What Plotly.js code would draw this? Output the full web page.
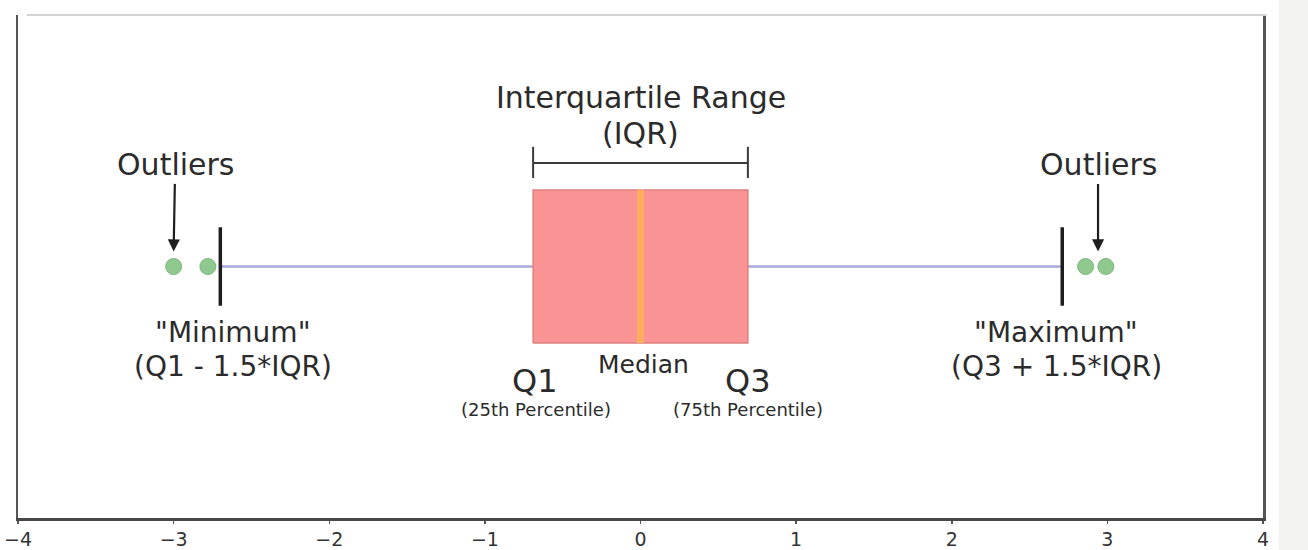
<!DOCTYPE html>
<html>
<head>
<meta charset="utf-8">
<script src="https://cdn.plot.ly/plotly-3.0.1.min.js"></script>
<style>
  html, body { margin: 0; padding: 0; background: #ffffff; }
  #chart { width: 1308px; height: 550px; }
</style>
</head>
<body>
<div id="chart"></div>
<script>
// ---- data ----
const statNames  = ['lowerWhisker', 'q1', 'median', 'q3', 'upperWhisker'];
const statValues = [-2.70, -0.69, 0.00, 0.69, 2.71];
const outlierValues = [-3.00, -2.78, 2.86, 2.99];
const tickValues = [-4, -3, -2, -1, 0, 1, 2, 3, 4];
const tickLabels = ['\u22124', '\u22123', '\u22122', '\u22121', '0', '1', '2', '3', '4'];

const S = {};
statNames.forEach((n, i) => { S[n] = statValues[i]; });

// ---- styling / geometry (in axis units) ----
const yc = 0.5;        // row position
const boxHalf = 0.152; // half box height
const capHalf = 0.078; // half whisker-cap height
const FONT = 'DejaVu Sans, Verdana, sans-serif';
const TXT = '#2b2b2b';

const traces = [
  { // whiskers
    type: 'scatter', mode: 'lines', hoverinfo: 'skip', showlegend: false,
    x: [S.lowerWhisker, S.q1, null, S.q3, S.upperWhisker],
    y: [yc, yc, null, yc, yc],
    line: { color: '#a9a9dc', width: 2.5 }
  },
  { // box
    type: 'scatter', mode: 'lines', hoverinfo: 'skip', showlegend: false,
    x: [S.q1, S.q3, S.q3, S.q1, S.q1],
    y: [yc - boxHalf, yc - boxHalf, yc + boxHalf, yc + boxHalf, yc - boxHalf],
    fill: 'toself', fillcolor: '#fa9494',
    line: { color: '#e07f7f', width: 1.5 }
  },
  { // median
    type: 'scatter', mode: 'lines', hoverinfo: 'skip', showlegend: false,
    x: [S.median, S.median],
    y: [yc - boxHalf, yc + boxHalf],
    line: { color: '#ffad5c', width: 7 }
  },
  { // caps
    type: 'scatter', mode: 'lines', hoverinfo: 'skip', showlegend: false,
    x: [S.lowerWhisker, S.lowerWhisker, null, S.upperWhisker, S.upperWhisker],
    y: [yc - capHalf, yc + capHalf, null, yc - capHalf, yc + capHalf],
    line: { color: '#1e1e1e', width: 3.5 }
  },
  { // outliers
    type: 'scatter', mode: 'markers', hoverinfo: 'x', showlegend: false,
    x: outlierValues,
    y: outlierValues.map(() => yc),
    marker: { size: 16, color: '#8fc98f', line: { color: '#7cb87c', width: 1 } }
  },
  { // IQR bracket
    type: 'scatter', mode: 'lines', hoverinfo: 'skip', showlegend: false,
    x: [S.q1, S.q1, null, S.q1, S.q3, null, S.q3, S.q3],
    y: [0.676, 0.738, null, 0.706, 0.706, null, 0.676, 0.738],
    line: { color: '#3a3a3a', width: 2 }
  }
];

function txt(text, x, y, size) {
  return { text: text, x: x, y: y, xref: 'x', yref: 'y', showarrow: false,
           xanchor: 'center', yanchor: 'middle', borderpad: 0,
           font: { family: FONT, size: size, color: TXT } };
}

const leftOut = Math.min.apply(null, outlierValues);

const annotations = [
  txt('Interquartile Range', 0.0, 0.836, 30),
  txt('(IQR)', 0.0, 0.765, 30),
  txt('"Minimum"', -2.62, 0.369, 28),
  txt('(Q1 - 1.5*IQR)', -2.62, 0.302, 28),
  txt('"Maximum"', 2.67, 0.369, 28),
  txt('(Q3 + 1.5*IQR)', 2.67, 0.302, 28),
  txt('Q1', S.q1 + 0.01, 0.273, 32),
  txt('Q3', S.q3, 0.273, 32),
  txt('Median', S.median + 0.02, 0.305, 25),
  txt('(25th Percentile)', S.q1 + 0.02, 0.215, 18),
  txt('(75th Percentile)', S.q3, 0.215, 18),
  { text: 'Outliers', x: leftOut, y: yc + 0.03, xref: 'x', yref: 'y',
    ax: leftOut + 0.01, ay: 0.702, axref: 'x', ayref: 'y',
    showarrow: true, arrowhead: 2, arrowsize: 1.1, arrowwidth: 2.2, arrowcolor: '#1e1e1e',
    font: { family: FONT, size: 30, color: TXT } },
  { text: 'Outliers', x: 2.94, y: yc + 0.03, xref: 'x', yref: 'y',
    ax: 2.94, ay: 0.702, axref: 'x', ayref: 'y',
    showarrow: true, arrowhead: 2, arrowsize: 1.1, arrowwidth: 2.2, arrowcolor: '#1e1e1e',
    font: { family: FONT, size: 30, color: TXT } }
];

const layout = {
  width: 1308, height: 550,
  margin: { l: 18, r: 45, t: 15, b: 32 },
  paper_bgcolor: '#ffffff', plot_bgcolor: '#ffffff',
  showlegend: false,
  font: { family: FONT, color: TXT },
  xaxis: {
    range: [-4, 4], tickvals: tickValues, ticktext: tickLabels,
    ticks: 'outside', ticklen: 3, tickwidth: 1.5, tickcolor: '#555',
    showline: true, linecolor: '#474747', linewidth: 2.5,
    showgrid: false, zeroline: false, fixedrange: true,
    tickfont: { family: FONT, size: 19, color: '#333' }
  },
  yaxis: {
    range: [0, 1], showticklabels: false, ticks: '',
    showline: true, mirror: true, linecolor: '#555', linewidth: 2.5,
    showgrid: false, zeroline: false, fixedrange: true
  },
  shapes: [
    { type: 'line', xref: 'paper', yref: 'paper', x0: 0.007, x1: 1.003, y0: 1, y1: 1,
      line: { color: '#d4d4d4', width: 2 } },
    { type: 'rect', xref: 'paper', yref: 'paper', x0: 1.0125, x1: 1.05, y0: -0.1, y1: 1.05,
      fillcolor: '#f3f3f0', line: { width: 0 }, layer: 'below' }
  ],
  annotations: annotations
};

Plotly.newPlot('chart', traces, layout, { displayModeBar: false, staticPlot: true });
</script>
</body>
</html>
